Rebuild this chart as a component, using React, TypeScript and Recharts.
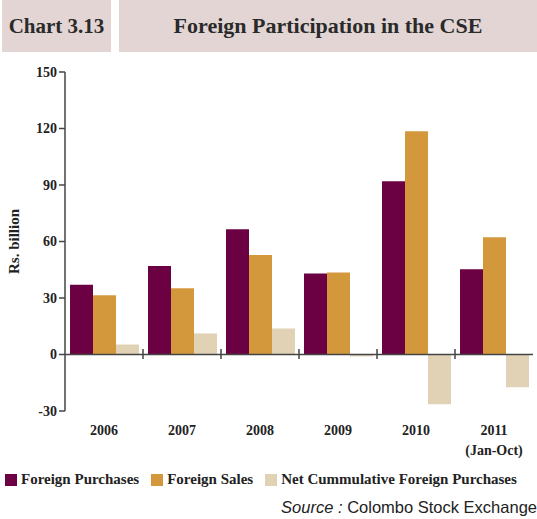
import { BarChart, Bar, XAxis, YAxis, ReferenceLine } from 'recharts'

const years = ['2006', '2007', '2008', '2009', '2010', '2011']
const yearNotes = ['', '', '', '', '', '(Jan-Oct)']
const foreignPurchases = [37, 47, 66.5, 43, 92, 45.2]
const foreignSales = [31.5, 35.2, 52.8, 43.6, 118.6, 62.2]
const netCumulative = [5.3, 11.2, 13.8, -1, -26.4, -17.4]
const yTicks = [-30, 0, 30, 60, 90, 120, 150]

const data = years.map((year, i) => ({
    year,
    note: yearNotes[i],
    purchases: foreignPurchases[i],
    sales: foreignSales[i],
    net: netCumulative[i],
}))

const PURPLE = '#6b0042'
const ORANGE = '#d4983c'
const BEIGE = '#e1d2b6'
const AXIS = '#444'
const SERIF = '"Liberation Serif", "DejaVu Serif", serif'

function YearTick(props: any) {
    const { x, y, payload, index } = props
    const half = 39
    const note = yearNotes[index]
    return (
        <g>
            {index > 0 && (
                <line x1={x - half} x2={x - half} y1={349} y2={359} stroke={AXIS} strokeWidth={1.5} />
            )}
            <text x={x} y={y + 16} textAnchor="middle" fontFamily={SERIF} fontWeight="bold" fontSize={14} fill="#222">
                {payload.value}
            </text>
            {note && (
                <text x={x} y={y + 36} textAnchor="middle" fontFamily={SERIF} fontWeight="bold" fontSize={14} fill="#222">
                    {note}
                </text>
            )}
        </g>
    )
}

const legendItems = [
    { label: 'Foreign Purchases', color: PURPLE },
    { label: 'Foreign Sales', color: ORANGE },
    { label: 'Net Cummulative Foreign Purchases', color: BEIGE },
]

export default function App() {
    return (
        <div style={{ position: 'absolute', left: 0, top: 0, width: 537, height: 519, background: '#fff', overflow: 'hidden' }}>
            <div
                style={{
                    position: 'absolute', left: 2, top: 0, width: 109, height: 52, background: '#e2d5d4',
                    display: 'flex', alignItems: 'center', justifyContent: 'center',
                    fontFamily: SERIF, fontWeight: 'bold', fontSize: 21, color: '#2a2a2a',
                }}
            >
                Chart 3.13
            </div>
            <div
                style={{
                    position: 'absolute', left: 119, top: 0, width: 418, height: 52, background: '#e2d5d4',
                    display: 'flex', alignItems: 'center', justifyContent: 'center',
                    fontFamily: SERIF, fontWeight: 'bold', fontSize: 22, color: '#2a2a2a',
                }}
            >
                Foreign Participation in the CSE
            </div>

            <div style={{ position: 'absolute', left: 0, top: 0 }}>
                <BarChart
                    width={537}
                    height={519}
                    data={data}
                    margin={{ top: 72, right: 4, left: 0, bottom: 78 }}
                    barCategoryGap={5}
                    barGap={0}
                >
                    <XAxis
                        dataKey="year"
                        axisLine={false}
                        tickLine={false}
                        height={30}
                        interval={0}
                        tick={<YearTick />}
                    />
                    <YAxis
                        domain={[-30, 150]}
                        ticks={yTicks}
                        width={65}
                        interval={0}
                        axisLine={{ stroke: AXIS, strokeWidth: 1.5 }}
                        tickLine={{ stroke: AXIS, strokeWidth: 1.5 }}
                        tickSize={6}
                        tick={{ fill: '#222', fontSize: 14, fontWeight: 'bold', fontFamily: SERIF }}
                        label={{
                            value: 'Rs. billion',
                            angle: -90,
                            position: 'insideLeft',
                            offset: 14,
                            style: { fill: '#222', fontSize: 15, fontWeight: 'bold', fontFamily: SERIF, textAnchor: 'middle' },
                        }}
                    />
                    <Bar dataKey="purchases" fill={PURPLE} isAnimationActive={false} />
                    <Bar dataKey="sales" fill={ORANGE} isAnimationActive={false} />
                    <Bar dataKey="net" fill={BEIGE} isAnimationActive={false} />
                    <ReferenceLine y={0} stroke={AXIS} strokeWidth={1.5} />
                </BarChart>
            </div>

            <div
                style={{
                    position: 'absolute', left: 5, top: 471, display: 'flex', alignItems: 'center',
                    fontFamily: SERIF, fontWeight: 'bold', fontSize: 15, color: '#222', whiteSpace: 'nowrap',
                }}
            >
                {legendItems.map((item) => (
                    <div key={item.label} style={{ display: 'flex', alignItems: 'center', marginRight: 12 }}>
                        <span style={{ width: 12, height: 12, background: item.color, display: 'inline-block', marginRight: 4 }} />
                        {item.label}
                    </div>
                ))}
            </div>

            <div
                style={{
                    position: 'absolute', right: 0, top: 498, fontFamily: '"Liberation Sans", Arial, sans-serif',
                    fontSize: 16.5, color: '#222', whiteSpace: 'nowrap',
                }}
            >
                <i>Source :</i> Colombo Stock Exchange
            </div>
        </div>
    )
}
